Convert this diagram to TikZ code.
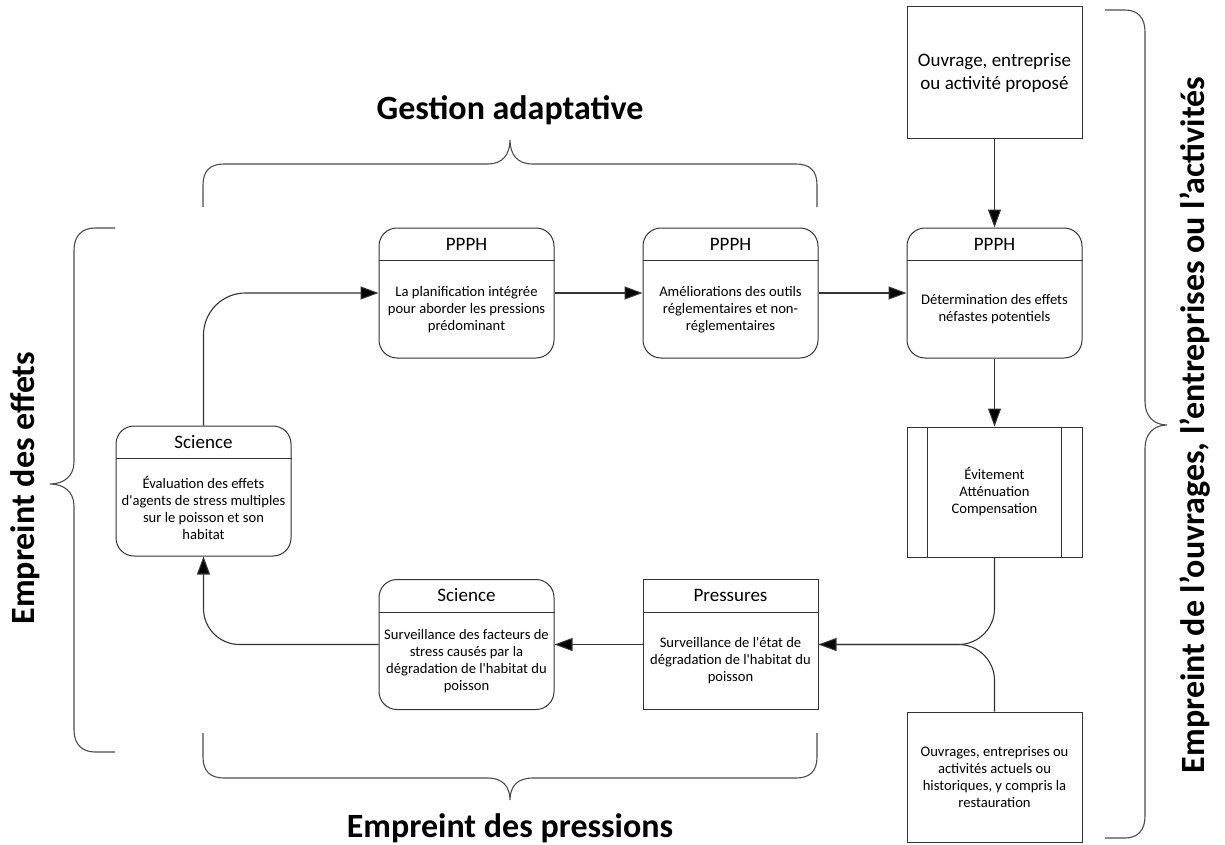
\documentclass[tikz,border=0pt]{standalone}
\usepackage{fontspec}
\setmainfont{Carlito}
\usetikzlibrary{arrows.meta,positioning}

\begin{document}
\begin{tikzpicture}[
    x=1pt, y=-1pt,
    node distance=88pt,
    box/.style={draw=black!80, line width=1pt, rounded corners=18pt, minimum width=175pt, minimum height=130pt, inner sep=0pt},
    sqbox/.style={box, rounded corners=0pt, align=center, font=\fontsize{14.6}{17}\selectfont},
    head/.style={font=\fontsize{19}{22}\selectfont, inner sep=0pt},
    body/.style={align=center, font=\fontsize{14.6}{17}\selectfont, inner sep=0pt},
    title/.style={font=\bfseries\fontsize{34}{38}\selectfont, inner sep=0pt},
    wire/.style={line width=1.1pt, draw=black!80},
    link/.style={wire, -{Triangle[length=18pt,width=13pt,fill=black]}},
    brace/.style={line width=1.1pt, draw=black!70}
]
\useasboundingbox (0,0) rectangle (1225,845);

% boxes
\node[box] (plan) at (466.5,293) {};
\node[box, right=of plan] (outils) {};
\node[box, right=of outils] (effets) {};
\node[sqbox, above=of effets, minimum height=132pt, font=\fontsize{19}{23}\selectfont] (projet) {Ouvrage, entreprise\\ou activité proposé};
\node[sqbox, below=68pt of effets] (evit) {Évitement\\Atténuation\\Compensation};
\node[sqbox, below=154pt of evit] (actuels) {Ouvrages, entreprises ou\\activités actuels ou\\historiques, y compris la\\restauration};
\node[box] (evalsci) at (203.5,491) {};
\node[box] (survsci) at (466.5,644.5) {};
\node[box, rounded corners=0pt, right=of survsci] (pression) {};

% headers
\foreach \b/\t in {plan/PPPH, outils/PPPH, effets/PPPH, evalsci/Science, survsci/Science, pression/Pressures} {
    \node[head] (\b-h) at ([yshift=-16.5pt]\b.north) {\t};
    \draw[wire, line width=1pt] ([yshift=-33pt]\b.north west) -- ([yshift=-33pt]\b.north east);
}

% texts
\node[body] (plan-t) at ([yshift=-16.5pt]plan.center) {La planification intégrée\\pour aborder les pressions\\prédominant};
\node[body] (outils-t) at ([yshift=-16.5pt]outils.center) {Améliorations des outils\\réglementaires et non-\\réglementaires};
\node[body] (effets-t) at ([yshift=-16.5pt]effets.center) {Détermination des effets\\néfastes potentiels};
\node[body] (evalsci-t) at ([yshift=-16.5pt]evalsci.center) {Évaluation des effets\\d\textquotesingle agents de stress multiples\\sur le poisson et son\\habitat};
\node[body] (survsci-t) at ([yshift=-16.5pt]survsci.center) {Surveillance des facteurs de\\stress causés par la\\dégradation de l\textquotesingle habitat du\\poisson};
\node[body] (pression-t) at ([yshift=-16.5pt]pression.center) {Surveillance de l\textquotesingle état de\\dégradation de l\textquotesingle habitat du\\poisson};

% side bars of the process box
\draw[wire, line width=1pt] ([xshift=21pt]evit.north west) -- ([xshift=21pt]evit.south west);
\draw[wire, line width=1pt] ([xshift=-21pt]evit.north east) -- ([xshift=-21pt]evit.south east);

% connectors
\draw[link] (projet) -- (effets);
\draw[link] (plan) -- (outils);
\draw[link] (outils) -- (effets);
\draw[link] (effets) -- (evit);
\draw[wire, rounded corners=36pt] (actuels.north) |- (pression.east);
\draw[link, rounded corners=36pt] (evit.south) |- (pression.east);
\draw[link] (pression) -- (survsci);
\draw[link, rounded corners=36pt] (survsci.west) -| (evalsci.south);
\draw[link, rounded corners=42pt] (evalsci.north) |- (plan.west);

% braces
\draw[brace] (203,207) -- (203,185) .. controls (203,171) and (210,164) .. (224,164) -- (488,164) .. controls (502,164) and (510,155) .. (510,140) .. controls (510,155) and (518,164) .. (532,164) -- (796,164) .. controls (810,164) and (817,171) .. (817,185) -- (817,207);
\draw[brace] (203,733) -- (203,757) .. controls (203,771) and (210,778) .. (224,778) -- (488,778) .. controls (502,778) and (510,786) .. (510,800) .. controls (510,786) and (518,778) .. (532,778) -- (796,778) .. controls (810,778) and (817,771) .. (817,757) -- (817,733);
\draw[brace] (115,228) -- (95,228) .. controls (82,228) and (74,236) .. (74,250) -- (74,462) .. controls (74,476) and (64,484) .. (50,484) .. controls (64,484) and (74,492) .. (74,506) -- (74,730) .. controls (74,744) and (82,752) .. (95,752) -- (115,752);
\draw[brace] (1105,10) -- (1125,10) .. controls (1138,10) and (1145,18) .. (1145,32) -- (1145,402) .. controls (1145,416) and (1154,425) .. (1167,425) .. controls (1154,425) and (1145,434) .. (1145,448) -- (1145,816) .. controls (1145,830) and (1138,838) .. (1125,838) -- (1105,838);

% titles
\node[title] (gestion) at (510,110) {Gestion adaptative};
\node[title] (pressions) at (510,828) {Empreint des pressions};
\node[title, rotate=90] (effetslbl) at (25,488) {Empreint des effets};
\node[title, rotate=90] (ouvrages) at (1195,425) {Empreint de l’ouvrages, l’entreprises ou l’activités};
\end{tikzpicture}
\end{document}
